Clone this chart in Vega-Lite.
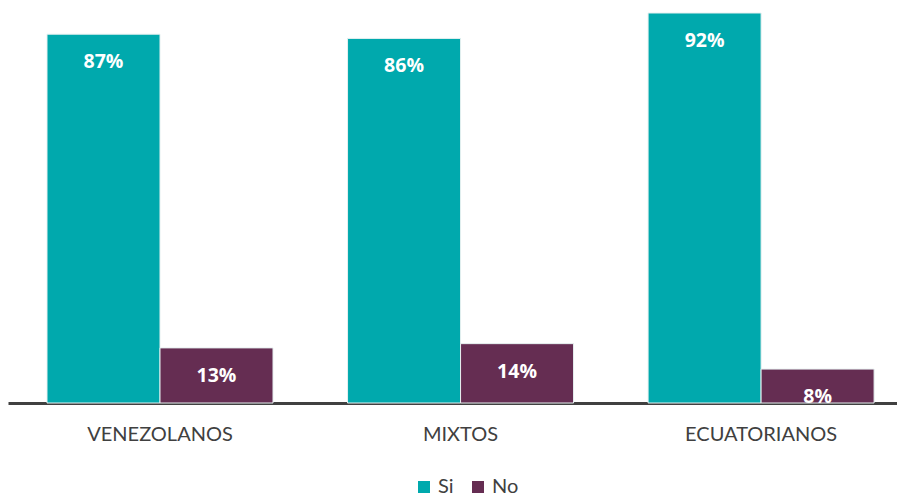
{
  "$schema": "https://vega.github.io/schema/vega-lite/v6.json",
  "autosize": {"type": "none"},
  "padding": {"left": 8, "top": 13, "right": 0, "bottom": 99},
  "width": 889,
  "height": 390,
  "background": "white",
  "config": {"view": {"stroke": null}, "font": "Lato"},
  "data": {
    "values": [
      {"grupo": "VENEZOLANOS", "respuesta": "Si", "valor": 0.87},
      {"grupo": "VENEZOLANOS", "respuesta": "No", "valor": 0.13},
      {"grupo": "MIXTOS", "respuesta": "Si", "valor": 0.86},
      {"grupo": "MIXTOS", "respuesta": "No", "valor": 0.14},
      {"grupo": "ECUATORIANOS", "respuesta": "Si", "valor": 0.92},
      {"grupo": "ECUATORIANOS", "respuesta": "No", "valor": 0.08}
    ]
  },
  "encoding": {
    "x": {
      "field": "grupo", "type": "nominal", "sort": null,
      "scale": {"paddingInner": 0.248, "paddingOuter": 0.103, "align": 0.63},
      "axis": {"title": null, "labelAngle": 0, "ticks": false, "labelFontSize": 20, "labelColor": "#404040", "labelPadding": 21, "domainColor": "#404040", "domainWidth": 3, "labelFont": "Lato"}
    },
    "xOffset": {"field": "respuesta", "type": "nominal", "sort": ["Si", "No"], "scale": {"paddingInner": 0, "paddingOuter": 0}},
    "y": {"field": "valor", "type": "quantitative", "scale": {"domain": [0, 0.92], "nice": false}, "axis": null}
  },
  "layer": [
    {
      "mark": {"type": "bar", "stroke": "#e6f0f0", "strokeWidth": 1},
      "encoding": {
        "color": {
          "field": "respuesta", "type": "nominal", "sort": ["Si", "No"],
          "scale": {"domain": ["Si", "No"], "range": ["#00A9AD", "#652D52"]},
          "legend": {"title": null, "orient": "none", "direction": "horizontal", "legendX": 406, "legendY": 464, "symbolType": "square", "symbolSize": 144, "symbolStrokeWidth": 0, "labelFontSize": 20, "labelColor": "#404040", "columnPadding": 14, "labelOffset": 4, "labelFont": "Lato"}
        }
      }
    },
    {
      "mark": {"type": "text", "color": "white", "fontWeight": "bold", "fontSize": 19.5, "baseline": "middle", "dy": 28, "font": "Open Sans"},
      "encoding": {"text": {"field": "valor", "type": "quantitative", "format": ".0%"}}
    }
  ]
}
